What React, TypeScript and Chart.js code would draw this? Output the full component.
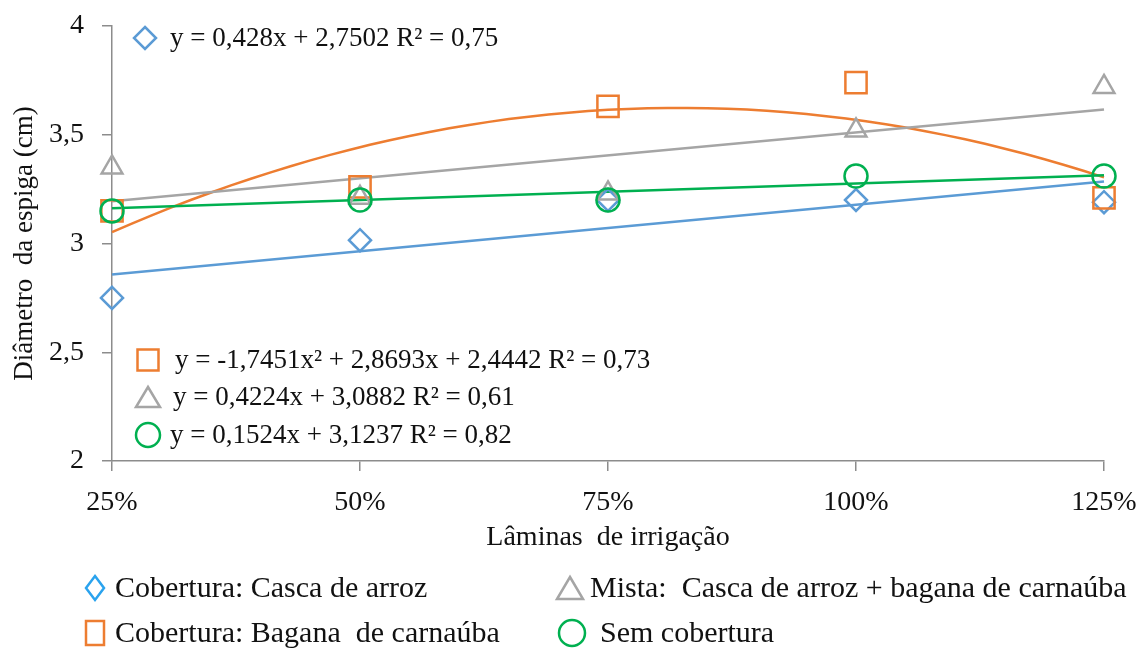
import React, { useEffect, useRef } from "react";
import { Chart, registerables } from "chart.js";

Chart.register(...registerables);

// ---- data ----
const levels = [0.25, 0.5, 0.75, 1.0, 1.25];
const cascaArroz = [2.75, 3.015, 3.2, 3.2, 3.19];
const baganaCarnauba = [3.15, 3.26, 3.63, 3.74, 3.21];
const mista = [3.35, 3.21, 3.23, 3.52, 3.72];
const semCobertura = [3.15, 3.2, 3.2, 3.31, 3.31];

// trendline coefficients (highest power first), as shown on the chart
const coefCasca = [0.428, 2.7502];
const coefBagana = [-1.7451, 2.8693, 2.4442];
const coefMista = [0.4224, 3.0882];
const coefSem = [0.1524, 3.1237];

const yTicks = [2, 2.5, 3, 3.5, 4];

const eqCasca = "y = 0,428x + 2,7502 R² = 0,75";
const eqBagana = "y = -1,7451x² + 2,8693x + 2,4442 R² = 0,73";
const eqMista = "y = 0,4224x + 3,0882 R² = 0,61";
const eqSem = "y = 0,1524x + 3,1237 R² = 0,82";

const legendLabels = [
  "Cobertura: Casca de arroz",
  "Mista:  Casca de arroz + bagana de carnaúba",
  "Cobertura: Bagana  de carnaúba",
  "Sem cobertura",
];

const BLUE = "#5B9BD5";
const ORANGE = "#ED7D31";
const GRAY = "#A5A5A5";
const GREEN = "#00B050";
const AXIS = "#8C8C8C";
const TEXT = "#111111";
const FONT = "'Liberation Serif', 'Times New Roman', serif";

function poly(c: number[], x: number) {
  return c.reduce((acc, k) => acc * x + k, 0);
}

function trend(c: number[]) {
  const pts: { x: number; y: number }[] = [];
  const n = c.length > 2 ? 50 : 1;
  const a = levels[0];
  const b = levels[levels.length - 1];
  for (let i = 0; i <= n; i++) {
    const x = a + ((b - a) * i) / n;
    pts.push({ x, y: poly(c, x) });
  }
  return pts;
}

function pts(vals: number[]) {
  return vals.map((v, i) => ({ x: levels[i], y: v }));
}

type Shape = "diamond" | "square" | "triangle" | "circle";

function drawMarker(
  ctx: CanvasRenderingContext2D,
  shape: Shape,
  x: number,
  y: number,
  w: number,
  h: number,
  color: string
) {
  ctx.save();
  ctx.strokeStyle = color;
  ctx.lineWidth = 2.5;
  ctx.beginPath();
  if (shape === "diamond") {
    ctx.moveTo(x, y - h / 2);
    ctx.lineTo(x + w / 2, y);
    ctx.lineTo(x, y + h / 2);
    ctx.lineTo(x - w / 2, y);
    ctx.closePath();
  } else if (shape === "square") {
    ctx.rect(x - w / 2, y - h / 2, w, h);
  } else if (shape === "triangle") {
    ctx.moveTo(x, y - h / 2);
    ctx.lineTo(x + w / 2, y + h / 2);
    ctx.lineTo(x - w / 2, y + h / 2);
    ctx.closePath();
  } else {
    ctx.ellipse(x, y, w / 2, h / 2, 0, 0, Math.PI * 2);
  }
  ctx.stroke();
  ctx.restore();
}

function drawText(ctx: CanvasRenderingContext2D, text: string, x: number, y: number, size: number) {
  ctx.save();
  ctx.fillStyle = TEXT;
  ctx.font = `${size}px ${FONT}`;
  ctx.textBaseline = "middle";
  ctx.textAlign = "left";
  ctx.fillText(text, x, y);
  ctx.restore();
}

const annotations = {
  id: "annotations",
  afterDraw(chart: any) {
    const ctx: CanvasRenderingContext2D = chart.ctx;
    // equations
    drawMarker(ctx, "diamond", 145, 38, 22, 22, BLUE);
    drawText(ctx, eqCasca, 170, 39, 27);
    drawMarker(ctx, "square", 148, 360, 21, 21, ORANGE);
    drawText(ctx, eqBagana, 175, 361, 27);
    drawMarker(ctx, "triangle", 148, 397, 24, 20, GRAY);
    drawText(ctx, eqMista, 173, 398, 27);
    drawMarker(ctx, "circle", 148, 435, 24, 24, GREEN);
    drawText(ctx, eqSem, 170, 436, 27);
    // legend
    drawMarker(ctx, "diamond", 95, 588, 18, 24, "#2AA3EE");
    drawText(ctx, legendLabels[0], 115, 589, 30);
    drawMarker(ctx, "triangle", 570, 588, 26, 22, GRAY);
    drawText(ctx, legendLabels[1], 590, 589, 30);
    drawMarker(ctx, "square", 95, 633, 18, 24, ORANGE);
    drawText(ctx, legendLabels[2], 115, 634, 30);
    drawMarker(ctx, "circle", 572, 633, 26, 26, GREEN);
    drawText(ctx, legendLabels[3], 600, 634, 30);
  },
};

export default function App() {
  const ref = useRef<HTMLCanvasElement | null>(null);

  useEffect(() => {
    if (!ref.current) return;
    const markerBase = {
      showLine: false,
      backgroundColor: "rgba(0,0,0,0)",
      pointBorderWidth: 2.5,
      pointHoverRadius: 0,
      clip: false as any,
    };
    const lineBase = {
      showLine: true,
      pointRadius: 0,
      borderWidth: 2.5,
      tension: 0,
      fill: false,
      clip: false as any,
    };
    const chart = new Chart(ref.current, {
      type: "scatter",
      data: {
        datasets: [
          { ...markerBase, label: "sem", data: pts(semCobertura), borderColor: GREEN, pointStyle: "circle", pointRadius: 11.5, order: 0 },
          { ...markerBase, label: "mista", data: pts(mista), borderColor: GRAY, pointStyle: "triangle", pointRadius: 12, order: 1 },
          { ...markerBase, label: "bagana", data: pts(baganaCarnauba), borderColor: ORANGE, pointStyle: "rect", pointRadius: 15, order: 2 },
          { ...markerBase, label: "casca", data: pts(cascaArroz), borderColor: BLUE, pointStyle: "rectRot", pointRadius: 11, order: 3 },
          { ...lineBase, label: "t-sem", data: trend(coefSem), borderColor: GREEN, order: 4 },
          { ...lineBase, label: "t-mista", data: trend(coefMista), borderColor: GRAY, order: 5 },
          { ...lineBase, label: "t-bagana", data: trend(coefBagana), borderColor: ORANGE, order: 6 },
          { ...lineBase, label: "t-casca", data: trend(coefCasca), borderColor: BLUE, order: 7 },
        ] as any,
      },
      options: {
        animation: false,
        responsive: false,
        events: [],
        layout: { padding: { top: 26, right: 40, bottom: 0, left: 0 } },
        plugins: { legend: { display: false }, tooltip: { enabled: false } },
        scales: {
          x: {
            type: "linear",
            min: 0.25,
            max: 1.25,
            afterBuildTicks: (s: any) => {
              s.ticks = levels.map((v) => ({ value: v }));
            },
            ticks: {
              callback: (v: any) => Math.round(Number(v) * 100) + "%",
              font: { family: FONT, size: 28 },
              color: TEXT,
              padding: 15,
              maxRotation: 0,
            },
            grid: { drawOnChartArea: false, drawTicks: true, tickLength: 10, color: AXIS, lineWidth: 1.5 },
            border: { display: true, color: AXIS, width: 1.5 },
            title: {
              display: true,
              text: "Lâminas  de irrigação",
              font: { family: FONT, size: 28 },
              color: TEXT,
              padding: { top: 0, bottom: 94 },
            },
            afterFit: (s: any) => {
              s.height = 187;
              s.paddingLeft = 0;
              s.paddingRight = 0;
            },
          },
          y: {
            type: "linear",
            min: 2,
            max: 4,
            afterBuildTicks: (s: any) => {
              s.ticks = yTicks.map((v) => ({ value: v }));
            },
            ticks: {
              callback: (v: any) => String(v).replace(".", ","),
              font: { family: FONT, size: 28 },
              color: TEXT,
              padding: 18,
            },
            grid: { drawOnChartArea: false, drawTicks: true, tickLength: 10, color: AXIS, lineWidth: 1.5 },
            border: { display: true, color: AXIS, width: 1.5 },
            title: {
              display: true,
              text: "Diâmetro  da espiga (cm)",
              font: { family: FONT, size: 27 },
              color: TEXT,
              padding: { top: 9, bottom: 0 },
            },
            afterFit: (s: any) => {
              s.width = 112;
              s.paddingTop = 0;
              s.paddingBottom = 0;
            },
          },
        },
      },
      plugins: [annotations],
    });
    return () => chart.destroy();
  }, []);

  return (
    <div style={{ position: "absolute", left: 0, top: 0, width: 1144, height: 648, background: "#fff" }}>
      <canvas ref={ref} width={1144} height={648} style={{ width: 1144, height: 648 }} />
    </div>
  );
}
